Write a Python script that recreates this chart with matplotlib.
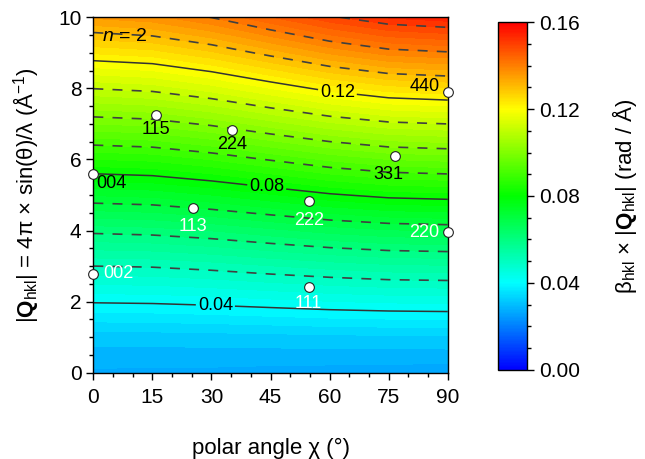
import numpy as np
import matplotlib
matplotlib.use('Agg')
import matplotlib.pyplot as plt
from matplotlib.colors import LinearSegmentedColormap, Normalize
from matplotlib.cm import ScalarMappable
from matplotlib.ticker import MultipleLocator

plt.rcParams['font.family'] = ['Liberation Sans', 'DejaVu Sans']
plt.rcParams['mathtext.fontset'] = 'custom'
plt.rcParams['mathtext.rm'] = 'Liberation Sans'
plt.rcParams['mathtext.it'] = 'Liberation Sans:italic'
plt.rcParams['mathtext.bf'] = 'Liberation Sans:bold'

# grid: polar angle chi (deg) and |Q| (1/A)
chi = [0, 15, 30, 45, 60, 75, 90]
q = [0, 1, 2, 3, 4, 5, 6, 7, 8, 9, 10]

# beta_hkl * |Q_hkl| (rad/A), one list per chi column, Q = 0..10
bq_chi0 = [0.0270, 0.0310, 0.0403, 0.0500, 0.0609, 0.0727, 0.0849, 0.0975, 0.1101, 0.1228, 0.1354]
bq_chi15 = [0.0269, 0.0311, 0.0405, 0.0503, 0.0614, 0.0733, 0.0856, 0.0983, 0.1111, 0.1239, 0.1367]
bq_chi30 = [0.0268, 0.0313, 0.0410, 0.0512, 0.0626, 0.0750, 0.0876, 0.1006, 0.1138, 0.1270, 0.1401]
bq_chi45 = [0.0265, 0.0315, 0.0417, 0.0524, 0.0643, 0.0772, 0.0903, 0.1038, 0.1175, 0.1312, 0.1448]
bq_chi60 = [0.0263, 0.0318, 0.0424, 0.0535, 0.0660, 0.0795, 0.0930, 0.1069, 0.1212, 0.1354, 0.1494]
bq_chi75 = [0.0261, 0.0319, 0.0429, 0.0544, 0.0672, 0.0811, 0.0950, 0.1092, 0.1239, 0.1385, 0.1528]
bq_chi90 = [0.0260, 0.0320, 0.0431, 0.0547, 0.0677, 0.0817, 0.0957, 0.1100, 0.1249, 0.1396, 0.1541]

# measured reflections
refl = ['002', '004', '113', '111', '222', '220', '224', '115', '331', '440']
refl_chi = [0, 0, 25.2, 54.7, 54.7, 90, 35.3, 15.8, 76.7, 90]
refl_q = [2.79, 5.59, 4.63, 2.42, 4.84, 3.95, 6.84, 7.26, 6.09, 7.90]
# label placement (offset in points, alignment, colour)
refl_style = {
    '002': ((7, 0), 'left', 'center', 'white'),
    '004': ((2, -7), 'left', 'center', 'black'),
    '113': ((0, -13), 'center', 'center', 'white'),
    '111': ((0, -12), 'center', 'center', 'white'),
    '222': ((0, -14), 'center', 'center', 'white'),
    '220': ((-6, 0), 'right', 'center', 'white'),
    '224': ((0, -11), 'center', 'center', 'black'),
    '115': ((0, -11), 'center', 'center', 'black'),
    '331': ((-5, -13), 'center', 'center', 'black'),
    '440': ((-6, 4), 'right', 'center', 'black'),
}

Z = np.column_stack([bq_chi0, bq_chi15, bq_chi30, bq_chi45, bq_chi60, bq_chi75, bq_chi90])

cmap = LinearSegmentedColormap.from_list(
    'origin_rainbow', ['#0000ff', '#00ffff', '#00ff00', '#ffff00', '#ff0000'])
norm = Normalize(0, 0.16)

fig = plt.figure(figsize=(6.45, 4.59), dpi=100)
ax = fig.add_axes([0.1447, 0.188, 0.5494, 0.7743])

ax.contourf(chi, q, Z, levels=np.arange(0, 0.1625, 0.0025), cmap=cmap, norm=norm)

cs_major = ax.contour(chi, q, Z, levels=[0.04, 0.08, 0.12], colors='#333333',
                      linewidths=1.1, linestyles='solid')
ax.contour(chi, q, Z, levels=[0.05, 0.06, 0.07, 0.09, 0.10, 0.11, 0.13, 0.14, 0.15],
           colors='#404040', linewidths=1.2, linestyles=[(0, (6, 5.5))])
labels = ax.clabel(cs_major, fmt='%.2f', fontsize=13, colors='black', inline=True,
                   inline_spacing=2, manual=[(31, 1.9), (44, 5.2), (62, 7.9)])
for t in labels:
    t.set_rotation(0)

ax.plot(refl_chi, refl_q, 'o', ms=7, mfc='white', mec='#222222', mew=0.8,
        clip_on=False, zorder=5)
for name, x, y in zip(refl, refl_chi, refl_q):
    off, ha, va, col = refl_style[name]
    ax.annotate(name, (x, y), xytext=off, textcoords='offset points',
                ha=ha, va=va, color=col, fontsize=13, zorder=6)

ax.text(2.2, 9.45, '$n$ = 2', fontsize=14, va='center', ha='left')

ax.set_xlim(0, 90)
ax.set_ylim(0, 10)
ax.xaxis.set_major_locator(MultipleLocator(15))
ax.xaxis.set_minor_locator(MultipleLocator(5))
ax.yaxis.set_major_locator(MultipleLocator(2))
ax.yaxis.set_minor_locator(MultipleLocator(0.5))
ax.tick_params(which='both', direction='out', top=False, right=False, labelsize=15, width=1)
ax.tick_params(which='major', length=5)
ax.tick_params(which='minor', length=3)
ax.tick_params(axis='x', pad=6)
for sp in ax.spines.values():
    sp.set_linewidth(1.0)

ax.set_xlabel('polar angle χ (°)', fontsize=16, labelpad=22)
ax.set_ylabel('|$\\mathbf{Q}_{\\rm hkl}$| = 4π × sin(θ)/λ (Å$^{-1}$)', fontsize=16, labelpad=12)

cax = fig.add_axes([0.772, 0.194, 0.045, 0.758])
cb = fig.colorbar(ScalarMappable(norm=norm, cmap=cmap), cax=cax)
cb.set_ticks([0, 0.04, 0.08, 0.12, 0.16])
cb.ax.yaxis.set_major_formatter(matplotlib.ticker.FormatStrFormatter('%.2f'))
cb.ax.yaxis.set_minor_locator(MultipleLocator(0.01))
cb.ax.tick_params(which='both', direction='out', labelsize=15, width=1)
cb.ax.tick_params(which='major', length=5)
cb.ax.tick_params(which='minor', length=3)
cb.outline.set_linewidth(1.0)
cb.set_label('β$_{\\rm hkl}$ × |$\\mathbf{Q}_{\\rm hkl}$| (rad / Å)', fontsize=16, labelpad=22)

fig.savefig('out.png', dpi=100)
